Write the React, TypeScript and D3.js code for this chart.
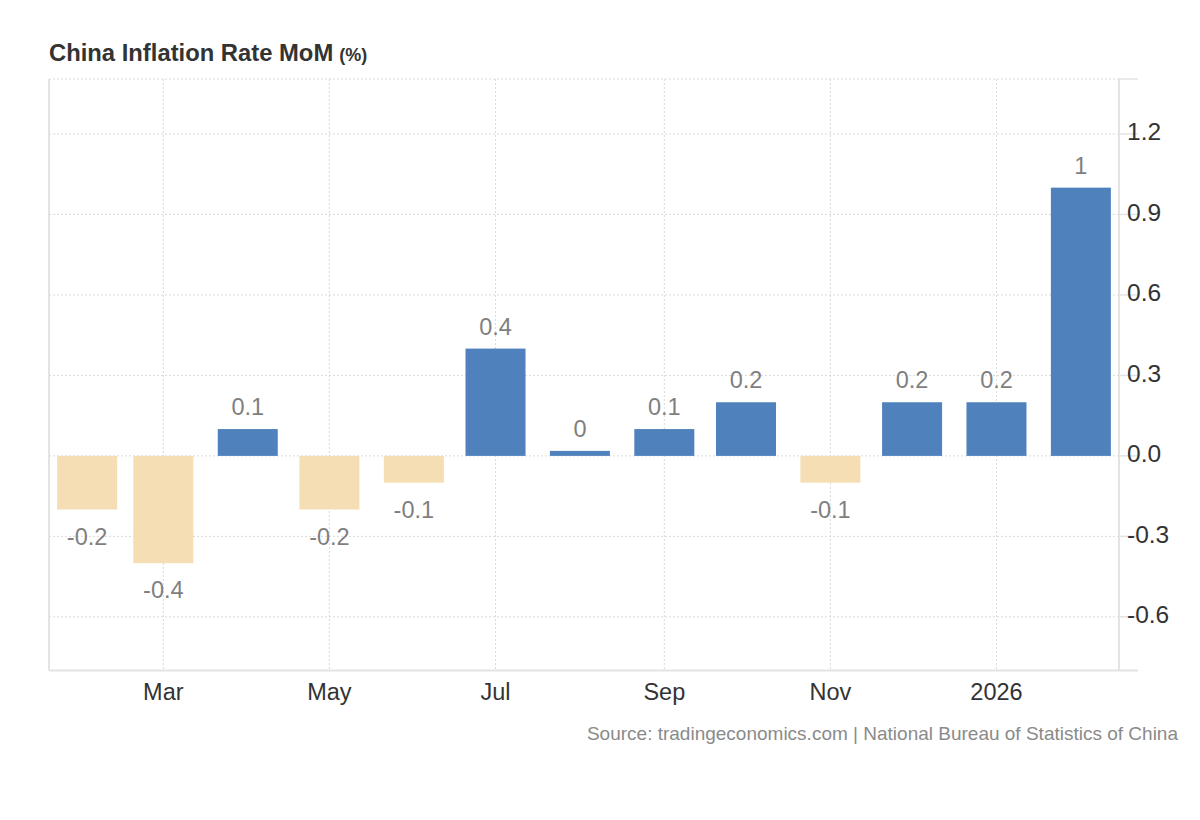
import React from "react";
import * as d3 from "d3";

const months: string[] = [
  "2025-02-01", "2025-03-01", "2025-04-01", "2025-05-01", "2025-06-01", "2025-07-01",
  "2025-08-01", "2025-09-01", "2025-10-01", "2025-11-01", "2025-12-01", "2026-01-01", "2026-02-01",
];
const values: number[] = [-0.2, -0.4, 0.1, -0.2, -0.1, 0.4, 0, 0.1, 0.2, -0.1, 0.2, 0.2, 1];
const yTicks: number[] = [-0.6, -0.3, 0, 0.3, 0.6, 0.9, 1.2];
const xTickDates: string[] = ["2025-03-01", "2025-05-01", "2025-07-01", "2025-09-01", "2025-11-01", "2026-01-01"];
const xTickLabels: string[] = ["Mar", "May", "Jul", "Sep", "Nov", "2026"];
const xDomain: string[] = ["2025-01-18", "2026-02-15"];
const yDomain: number[] = [-0.8, 1.405];

const FONT = "Helvetica, Arial, 'Liberation Sans', sans-serif";

export default function App() {
  const left = 49, right = 1119, top = 79, bottom = 670.5;
  const parse = d3.utcParse("%Y-%m-%d");
  const x = d3.scaleUtc().domain(xDomain.map((d) => parse(d)!)).range([left, right]);
  const y = d3.scaleLinear().domain(yDomain).range([bottom, top]);
  const barW = 60;
  const minLen = 5;
  const fmtY = (v: number) => d3.format(".1f")(v).replace("\u2212", "-");
  const fmtLabel = (v: number) => String(v);

  return (
    <svg width={1200} height={820} style={{ position: "absolute", left: 0, top: 0 }} fontFamily={FONT}>
      <text x={49} y={61} fill="#333" fontWeight="bold" fontSize={23.8}>
        China Inflation Rate MoM
        <tspan fontSize={18} dx={6}>(%)</tspan>
      </text>

      {/* horizontal grid */}
      {[...yTicks, yDomain[1]].map((t, i) => (
        <line key={"hg" + i} x1={left} x2={right} y1={y(t)} y2={y(t)} stroke="#d9d9d9" strokeWidth={1} strokeDasharray="2,2" />
      ))}
      {/* vertical grid */}
      {xTickDates.map((d, i) => (
        <line key={"vg" + i} x1={x(parse(d)!)} x2={x(parse(d)!)} y1={top} y2={bottom} stroke="#d9d9d9" strokeWidth={1} strokeDasharray="2,2" />
      ))}

      {/* bars */}
      {values.map((v, i) => {
        const cx = x(parse(months[i])!);
        const y0 = y(0);
        let h = Math.abs(y(v) - y0);
        if (h < minLen) h = minLen;
        const pos = v >= 0;
        const yTop = pos ? y0 - h : y0;
        return (
          <g key={"b" + i}>
            <rect x={cx - barW / 2} y={yTop} width={barW} height={h} fill={pos ? "#4f81bd" : "#f5deb3"} />
            <text
              x={cx}
              y={pos ? yTop - 22 : yTop + h + 27}
              textAnchor="middle"
              dominantBaseline="central"
              fill="#7f7f7f"
              fontSize={23.5}
            >
              {fmtLabel(v)}
            </text>
          </g>
        );
      })}

      {/* axis lines */}
      <line x1={left} x2={left} y1={top} y2={bottom} stroke="#e3e3e3" strokeWidth={2} />
      <line x1={right} x2={right} y1={top} y2={bottom} stroke="#e3e3e3" strokeWidth={2} />
      <line x1={left} x2={right + 19} y1={bottom} y2={bottom} stroke="#e3e3e3" strokeWidth={2} />
      {[...yTicks, yDomain[1]].map((t, i) => (
        <line key={"yt" + i} x1={right} x2={right + 19} y1={y(t)} y2={y(t)} stroke="#e3e3e3" strokeWidth={1.5} />
      ))}

      {/* y labels */}
      {yTicks.map((t, i) => (
        <text key={"yl" + i} x={1127} y={y(t) - 2} dominantBaseline="central" fill="#333" fontSize={24.5}>
          {fmtY(t)}
        </text>
      ))}

      {/* x labels */}
      {xTickDates.map((d, i) => (
        <text key={"xl" + i} x={x(parse(d)!)} y={692} textAnchor="middle" dominantBaseline="central" fill="#333" fontSize={23.5}>
          {xTickLabels[i]}
        </text>
      ))}

      <text x={1178} y={733} textAnchor="end" fill="#8a8a8a" fontSize={19} dominantBaseline="central">
        Source: tradingeconomics.com | National Bureau of Statistics of China
      </text>
    </svg>
  );
}
